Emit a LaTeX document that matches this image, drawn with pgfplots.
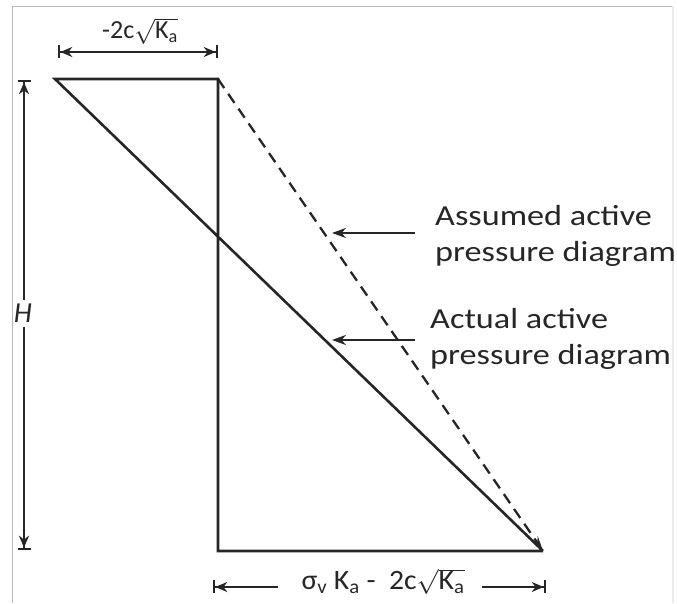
\documentclass[border=0pt]{standalone}
\usepackage{fontspec}
\setmainfont{Carlito}
\usepackage{pgfplots}
\pgfplotsset{compat=1.18}
\usetikzlibrary{arrows.meta}
\begin{document}
\begin{tikzpicture}
\begin{axis}[
  width=677pt, height=603pt, scale only axis,
  hide axis, clip=false,
  xmin=0, xmax=677, ymin=0, ymax=603,
  ]
  % frame of the picture
  \addplot[gray!55, line width=1.2pt] coordinates {(12.5,0) (12.5,596.5) (673,596.5)};
  \addplot[gray!15, line width=1.5pt] coordinates {(673,596.5) (673,0)};

  % pressure diagrams
  \addplot[black!85, line width=2.6pt] coordinates {(543,52) (218,52) (218,524) (55,524) (543,52)};
  \addplot[black!85, line width=2.3pt, dash pattern=on 11pt off 7pt,
    -{Stealth[length=15pt,width=8pt]}] coordinates {(218,524) (543,52)};

  % dimension lines
  \addplot[black!85, line width=2.3pt,
    {Bar[width=13pt]Stealth[length=12pt,width=10pt]}-{Stealth[length=12pt,width=10pt]Bar[width=13pt]}]
    coordinates {(58,551) (218,551)};
  \addplot[black!85, line width=2.3pt,
    {Bar[width=13pt]Stealth[length=12pt,width=10pt]}-]
    coordinates {(24,523) (24,303)};
  \addplot[black!85, line width=2.3pt,
    -{Stealth[length=12pt,width=10pt]Bar[width=13pt]}]
    coordinates {(24,276) (24,53)};
  \addplot[black!85, line width=2.3pt,
    {Bar[width=13pt]Stealth[length=12pt,width=10pt]}-]
    coordinates {(213,16) (278,16)};
  \addplot[black!85, line width=2.3pt,
    -{Stealth[length=12pt,width=10pt]Bar[width=13pt]}]
    coordinates {(482,16) (546,16)};

  % pointers
  \addplot[black!85, line width=2.3pt, -{Stealth[length=14pt,width=10pt]}]
    coordinates {(415,370) (332,370)};
  \addplot[black!85, line width=2.3pt, -{Stealth[length=14pt,width=10pt]}]
    coordinates {(415,263) (332,263)};

  % labels
  \node[text=black!85, anchor=base, inner sep=0pt, font=\fontsize{26}{28}\selectfont]
    at (axis cs:140,564) {-2c$\sqrt{\mbox{K\textsubscript{a}}}$};
  \node[text=black!85, anchor=base, inner sep=0pt, xscale=1.06, font=\fontsize{28}{30}\selectfont]
    at (axis cs:383,13) {σ\textsubscript{v} K\textsubscript{a} -\ \ 2c$\sqrt{\mbox{K\textsubscript{a}}}$};
  \node[text=black!85, font=\fontsize{29}{30}\selectfont\itshape] at (axis cs:23,290) {H};
  \node[text=black!85, anchor=base west, inner sep=0pt, xscale=1.18, font=\fontsize{29}{30}\selectfont]
    at (axis cs:435,377) {Assumed active};
  \node[text=black!85, anchor=base west, inner sep=0pt, xscale=1.18, font=\fontsize{29}{30}\selectfont]
    at (axis cs:435,341) {pressure diagram};
  \node[text=black!85, anchor=base west, inner sep=0pt, xscale=1.18, font=\fontsize{29}{30}\selectfont]
    at (axis cs:430,274) {Actual active};
  \node[text=black!85, anchor=base west, inner sep=0pt, xscale=1.18, font=\fontsize{29}{30}\selectfont]
    at (axis cs:430,238) {pressure diagram};

  \draw[draw=none] (rel axis cs:0,0) rectangle (rel axis cs:1,1);
\end{axis}
\end{tikzpicture}
\end{document}
